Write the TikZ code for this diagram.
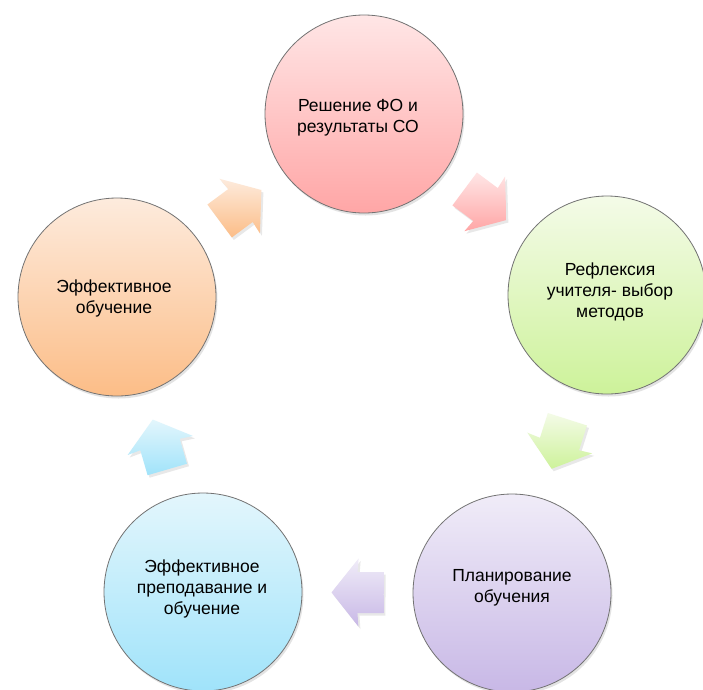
\documentclass[tikz,border=0pt]{standalone}
\usepackage{fontspec}
\setmainfont{Liberation Sans}
\usetikzlibrary{calc,shadows}
\definecolor{pkT}{HTML}{FFE6E6}
\definecolor{pkB}{HTML}{FFA6A6}
\definecolor{grT}{HTML}{F4FBE8}
\definecolor{grB}{HTML}{CDF29A}
\definecolor{puT}{HTML}{F0ECF8}
\definecolor{puB}{HTML}{C8B8E6}
\definecolor{cyT}{HTML}{E3F6FC}
\definecolor{cyB}{HTML}{A0E3FA}
\definecolor{orT}{HTML}{FDEBDD}
\definecolor{orB}{HTML}{FCBD87}
\tikzset{
  stage/.style={circle, draw=black!55, line width=0.8pt, minimum size=198pt,
    inner sep=0pt,
    drop shadow={opacity=0.22, shadow xshift=1.5pt, shadow yshift=-2.5pt}},
  stagetext/.style={align=center, text=black, inner sep=0pt,
    font=\fontsize{17.5}{21}\selectfont},
  blockarrow/.style={drop shadow={opacity=0.18, shadow xshift=2pt, shadow yshift=-2.5pt}}
}
\newcommand\cycarrow[4]{%
  \shade[blockarrow, top color=#3, bottom color=#4]
    let \p1=(#1), \p2=(#2), \n1={atan2(\y2-\y1,\x2-\x1)} in
    ($(#1)!0.5!(#2)+(\n1:-26pt)+(\n1+90:20.5pt)$)
    -- ($(#1)!0.5!(#2)+(\n1:0pt)+(\n1+90:20.5pt)$)
    -- ($(#1)!0.5!(#2)+(\n1:-1pt)+(\n1+90:34pt)$)
    -- ($(#1)!0.5!(#2)+(\n1:26pt)$)
    -- ($(#1)!0.5!(#2)+(\n1:-1pt)+(\n1+90:-34pt)$)
    -- ($(#1)!0.5!(#2)+(\n1:0pt)+(\n1+90:-20.5pt)$)
    -- ($(#1)!0.5!(#2)+(\n1:-26pt)+(\n1+90:-20.5pt)$)
    -- cycle;}
\begin{document}
\begin{tikzpicture}[x=1pt, y=-1pt]
  \useasboundingbox (0,0) rectangle (703,689);
  \fill[white] (0,0) rectangle (703,689);
  \node[stage, top color=pkT, bottom color=pkB] (resh) at (364,114) {};
  \node[stage, top color=grT, bottom color=grB] (refl) at (607,295) {};
  \node[stage, top color=puT, bottom color=puB] (plan) at (512,593) {};
  \node[stage, top color=cyT, bottom color=cyB] (prep) at (203,592) {};
  \node[stage, top color=orT, bottom color=orB] (obuch) at (117,297) {};
  \node[stagetext] (resh-t) at ($(resh)+(-6,4)$) {Решение ФО и\\результаты СО};
  \node[stagetext] (refl-t) at ($(refl)+(3,-3)$) {Рефлексия\\учителя- выбор\\методов};
  \node[stagetext] (plan-t) at ($(plan)+(0,-5)$) {Планирование\\обучения};
  \node[stagetext] (prep-t) at ($(prep)+(-1,-3)$) {Эффективное\\преподавание и\\обучение};
  \node[stagetext] (obuch-t) at ($(obuch)+(-3,1)$) {Эффективное\\обучение};
  \cycarrow{obuch}{resh}{orT}{orB}
  \cycarrow{resh}{refl}{pkT}{pkB}
  \cycarrow{refl}{plan}{grT}{grB}
  \cycarrow{plan}{prep}{puT}{puB}
  \cycarrow{prep}{obuch}{cyT}{cyB}
\end{tikzpicture}
\end{document}
